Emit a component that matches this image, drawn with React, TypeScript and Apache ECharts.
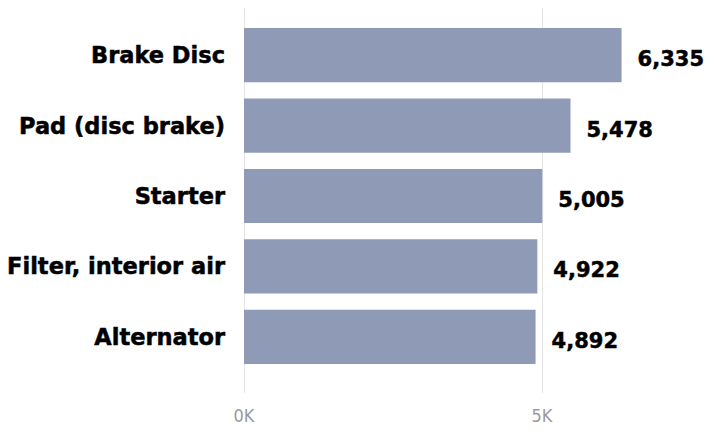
import React, { useEffect, useRef } from "react";
import * as echarts from "echarts";

const categories = ["Brake Disc", "Pad (disc brake)", "Starter", "Filter, interior air", "Alternator"];
const values = [6335, 5478, 5005, 4922, 4892];
const tickStep = 5000;
const axisMax = 10000;

export default function App() {
  const ref = useRef<HTMLDivElement>(null);
  useEffect(() => {
    if (!ref.current) return;
    const chart = echarts.init(ref.current, undefined, { renderer: "svg" });
    const labelFont = "'DejaVu Sans', sans-serif";
    chart.setOption({
      animation: false,
      grid: [
        { left: 244, width: 596, top: 0, bottom: 39, outerBoundsMode: "none", containLabel: false },
        { left: 244, width: 596, top: 20, bottom: 60, outerBoundsMode: "none", containLabel: false },
      ],
      xAxis: [
        {
          gridIndex: 0,
          type: "value",
          min: 0,
          max: axisMax,
          interval: tickStep,
          axisLine: { show: false },
          axisTick: { show: false },
          splitLine: { show: true, lineStyle: { color: "#e4e4e4", width: 1 } },
          axisLabel: {
            color: "#9a9a9a",
            fontSize: 18,
            margin: 13,
            showMaxLabel: false,
            fontFamily: "'DejaVu Sans Condensed', 'Liberation Sans Narrow', sans-serif",
            formatter: (v: number) => `${v / 1000}K`,
          },
        },
        { gridIndex: 1, type: "value", min: 0, max: axisMax, show: false },
      ],
      yAxis: [
        { gridIndex: 0, type: "value", show: false },
        {
          gridIndex: 1,
          type: "category",
          inverse: true,
          data: categories,
          axisLine: { show: false },
          axisTick: { show: false },
          axisLabel: {
            color: "#000",
            fontWeight: "bold",
            fontSize: 22.5,
            margin: 19,
            fontFamily: labelFont,
            textBorderColor: "#000",
            textBorderWidth: 0.5,
          },
        },
      ],
      series: [
        {
          type: "bar",
          xAxisIndex: 1,
          yAxisIndex: 1,
          data: values,
          barCategoryGap: "23%",
          itemStyle: { color: "#8f9ab7" },
          label: {
            show: true,
            position: "right",
            distance: 16,
            offset: [0, 4],
            color: "#000",
            fontWeight: "bold",
            fontSize: 21,
            fontFamily: labelFont,
            textBorderColor: "#000",
            textBorderWidth: 0.5,
            formatter: (p: any) => p.value.toLocaleString("en-US"),
          },
        },
      ],
    });
    return () => chart.dispose();
  }, []);
  return <div ref={ref} style={{ width: 718, height: 432, margin: -8 }} />;
}
